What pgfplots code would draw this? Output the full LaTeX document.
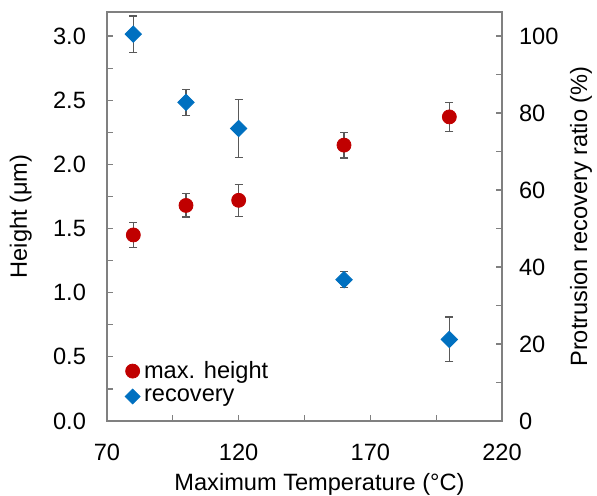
\documentclass[border=0pt]{standalone}
\usepackage{fontspec}
\setmainfont{Liberation Sans}
\usepackage{pgfplots}
\pgfplotsset{compat=1.18}
\definecolor{myred}{HTML}{C00000}
\definecolor{myblue}{HTML}{0070C0}
\definecolor{frame}{HTML}{808080}
\definecolor{ebar}{HTML}{595959}
\newcommand{\fs}{\fontsize{11.8}{14}\selectfont}
\begin{document}
\begin{tikzpicture}
\pgfplotsset{
  common/.style={
    scale only axis, width=197.5pt, height=204.5pt,
    xmin=70, xmax=220,
    axis line style={frame, line width=0.9pt},
    tick style={frame, line width=0.6pt},
    tick align=inside,
    major tick length=3pt, minor tick length=3pt,
    /pgf/number format/assume math mode=true,
    tick label style={font=\fs, black},
  },
  ebars/.style={error bars/.cd, y dir=both, y explicit,
    error bar style={ebar, line width=0.6pt},
    error mark options={ebar, rotate=90, mark size=2pt, line width=0.6pt}},
}
\begin{axis}[common, name=ax,
  ymin=0, ymax=3.1875,
  xtick={70,120,170,220}, minor xtick={95,145,195},
  ytick={0,0.5,1,1.5,2,2.5,3}, minor ytick={0.25,0.75,1.25,1.75,2.25,2.75},
  xtick pos=bottom, ytick pos=left,
  yticklabel style={anchor=east, xshift=-7pt, /pgf/number format/.cd, fixed, fixed zerofill, precision=1},
  xticklabel style={anchor=base, yshift=-19.5pt},
  xlabel={Maximum Temperature (°C)},
  ylabel={Height (μm)},
  every axis x label/.style={at={(axis description cs:0.5,0)}, anchor=base, yshift=-34.5pt, xshift=7.5pt, font=\fs, black},
  every axis y label/.style={at={(axis description cs:0,0.5)}, xshift=-40pt, rotate=90, anchor=base, font=\fs, black},
]
\addplot[only marks, mark=*, mark size=3.5pt, mark options={fill=myred, draw=myred}, ebars]
  coordinates {
  (80,1.45) +- (0,0.10)
  (100,1.68) +- (0,0.09)
  (120,1.72) +- (0,0.125)
  (160,2.15) +- (0,0.10)
  (200,2.37) +- (0,0.115)
  };
\end{axis}
\begin{axis}[common,
  ymin=0, ymax=106.25,
  axis x line=none, axis y line*=right,
  ytick={0,20,40,60,80,100}, minor ytick={10,30,50,70,90},
  yticklabel style={anchor=west, xshift=5pt},
  ylabel={Protrusion recovery ratio (\%)},
  every axis y label/.style={at={(axis description cs:1,0.5)}, xshift=42.5pt, rotate=90, anchor=base, font=\fs, black},
  legend style={at={(0.03,0.03)}, anchor=south west, draw=none, fill=none,
    font=\fs, row sep=1.75pt, inner sep=1pt, nodes={inner sep=1pt}},
  legend cell align=left,
  legend image code/.code={\path[#1] plot coordinates {(5.5pt,0pt)}; \path (0pt,0pt) (10pt,0pt);},
]
\addlegendimage{only marks, mark=*, mark size=3.5pt, mark options={fill=myred, draw=myred}}
\addlegendentry{max. height}
\addlegendimage{only marks, mark=square*, mark size=2.6pt, mark options={rotate=45, fill=myblue, draw=myblue}}
\addlegendentry{recovery}
\addplot[forget plot, only marks, mark=square*, mark size=2.9pt, mark options={rotate=45, fill=myblue, draw=myblue}, ebars]
  coordinates {
  (80,100.5) +- (0,4.7)
  (100,82.8) +- (0,3.4)
  (120,76) +- (0,7.5)
  (160,36.7) +- (0,2.1)
  (200,21.2) +- (0,5.8)
  };
\end{axis}
\pgfresetboundingbox
\path ([xshift=-53.5pt, yshift=-37pt]ax.south west) rectangle ([xshift=47.5pt, yshift=6pt]ax.north east);
\end{tikzpicture}
\end{document}
